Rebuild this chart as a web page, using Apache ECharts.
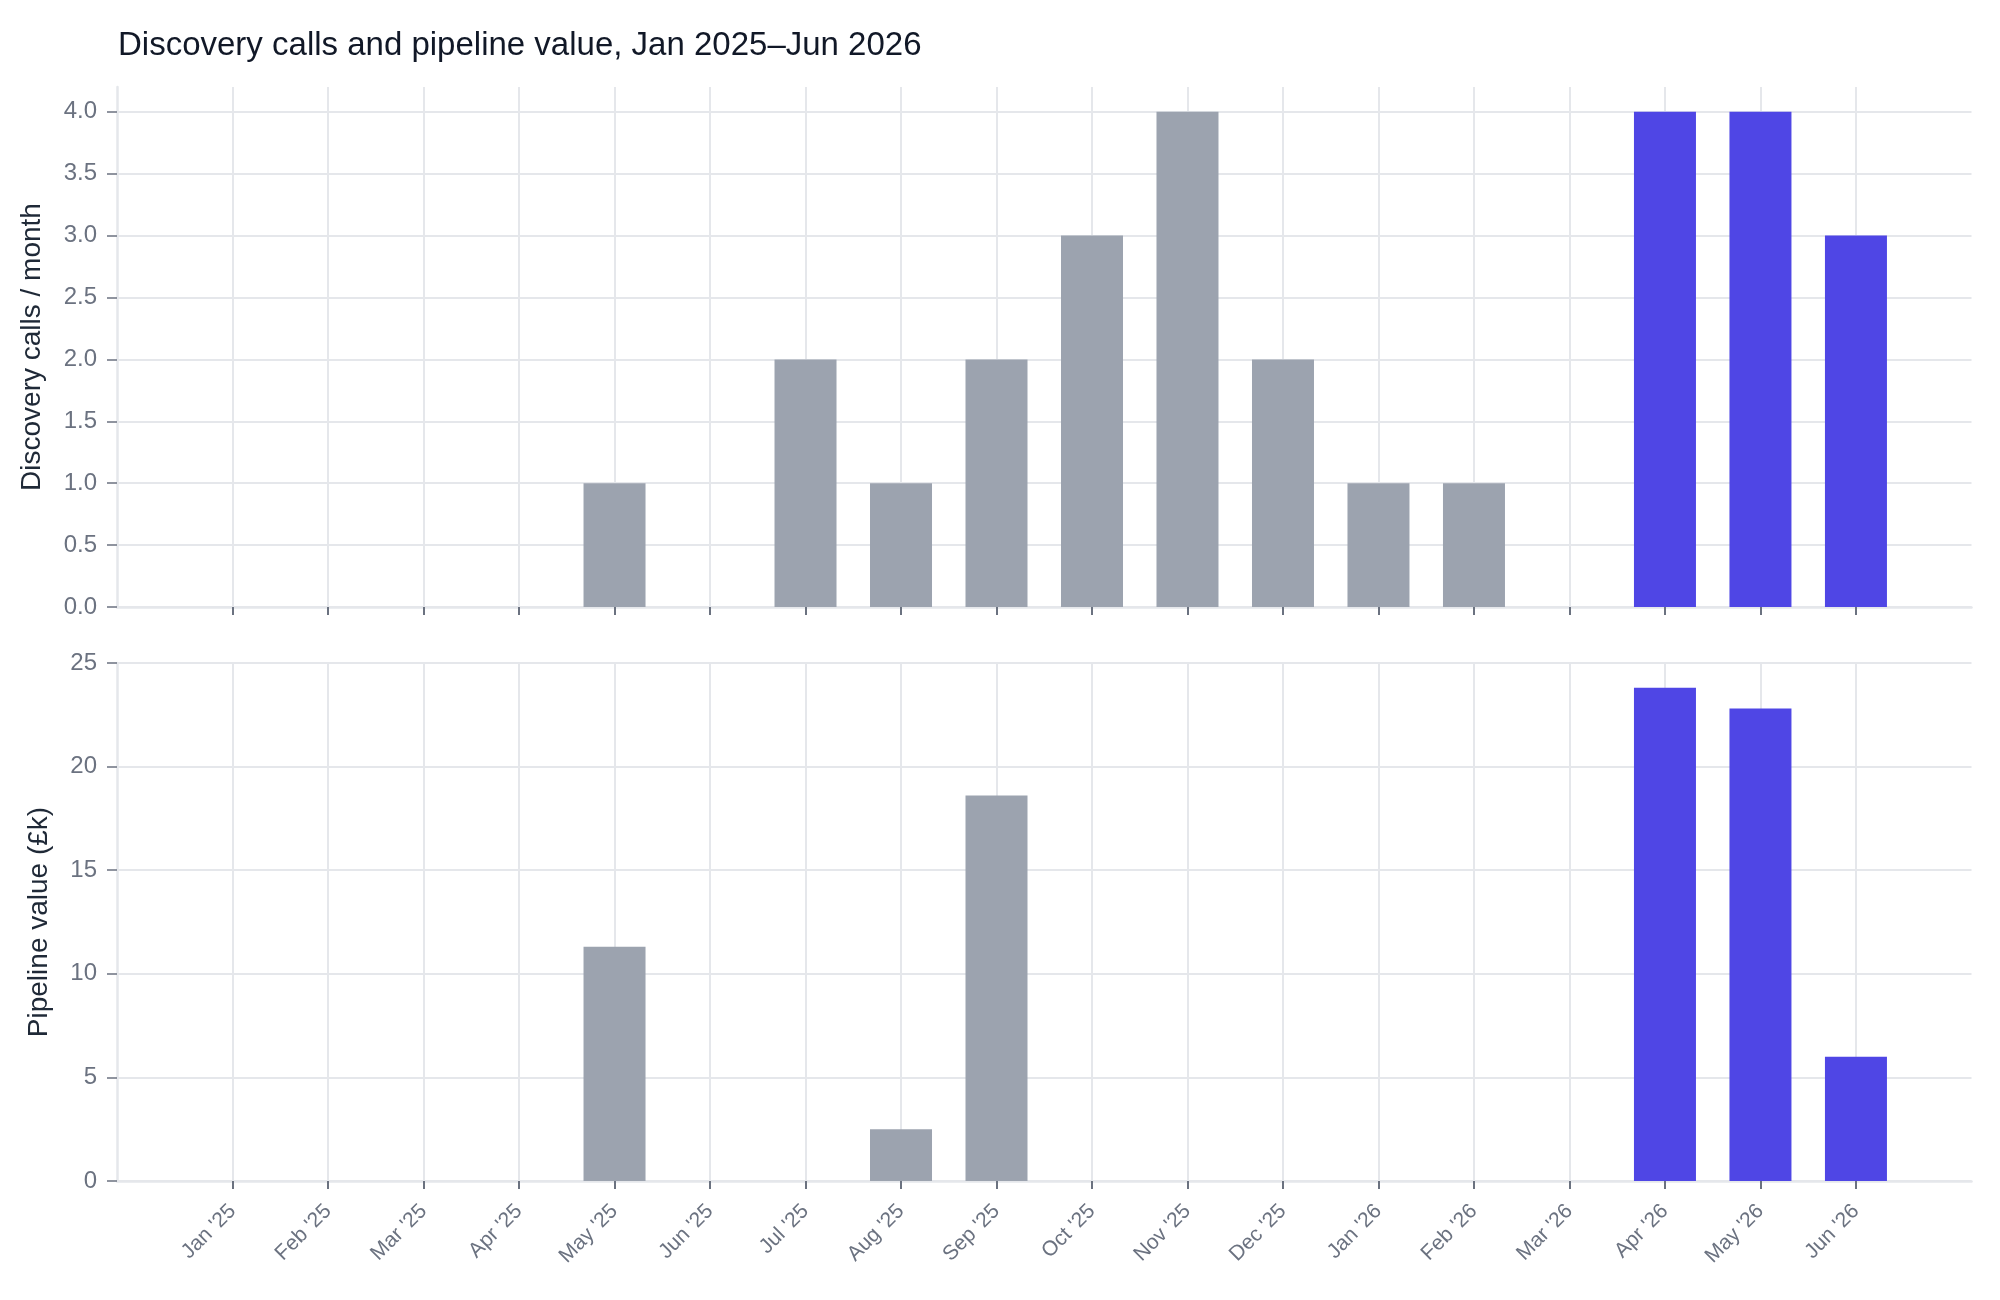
<!DOCTYPE html>
<html>
<head>
<meta charset="utf-8">
<script src="https://cdn.jsdelivr.net/npm/echarts@6/dist/echarts.min.js"></script>
<style>html,body{margin:0;padding:0;background:#fff}#c{width:2000px;height:1300px}</style>
</head>
<body>
<div id="c"></div>
<script>
const chartTitle = "Discovery calls and pipeline value, Jan 2025\u2013Jun 2026";
const months = ["Jan '25","Feb '25","Mar '25","Apr '25","May '25","Jun '25","Jul '25","Aug '25","Sep '25","Oct '25","Nov '25","Dec '25","Jan '26","Feb '26","Mar '26","Apr '26","May '26","Jun '26"];
const calls = [0,0,0,0,1,0,2,1,2,3,4,2,1,1,0,4,4,3];
const pipeline = [0,0,0,0,11.3,0,0,2.5,18.6,0,0,0,0,0,0,23.8,22.8,6.0];
const recentMonths = ["Apr '26","May '26","Jun '26"];
const callsTicks = [0,0.5,1,1.5,2,2.5,3,3.5,4];
const pipelineTicks = [0,5,10,15,20,25];
const callsAxisTitle = "Discovery calls / month";
const pipelineAxisTitle = "Pipeline value (\u00a3k)";

const FONT = "'Liberation Sans', Arial, Helvetica, sans-serif";
const GRID = '#e5e7eb', TICK = '#6b7280', GRAY = '#9ca3af', BLUE = '#4f46e5';
const monthIdx = months.map((m, i) => i);
const pad = 1.21;

function xAxis(gridIndex, showLabels) {
  return {
    type: 'value', gridIndex,
    min: -pad, max: months.length - 1 + pad,
    axisLine: { show: true, onZero: false, lineStyle: { color: GRID, width: 2.5 } },
    axisTick: { show: true, customValues: monthIdx, length: 8, lineStyle: { color: TICK, width: 2 } },
    axisLabel: {
      show: showLabels, customValues: monthIdx, rotate: 45, margin: 27,
      fontSize: 21, color: TICK, fontFamily: FONT,
      formatter: v => months[Math.round(v)]
    },
    splitLine: { show: true, lineStyle: { color: GRID, width: 2 } }
  };
}
function yAxis(gridIndex, name, max, ticks, fmt, gap) {
  return {
    type: 'value', gridIndex, min: 0, max,
    name, nameLocation: 'middle', nameGap: gap, nameRotate: 90,
    nameTextStyle: { fontSize: 28, color: '#1f2937', fontFamily: FONT },
    axisLine: { show: true, onZero: false, lineStyle: { color: GRID, width: 2.5 } },
    axisTick: { show: true, customValues: ticks, length: 10, lineStyle: { color: TICK, width: 1.5 } },
    axisLabel: { customValues: ticks, formatter: fmt, fontSize: 24, color: TICK, margin: 20, fontFamily: FONT },
    splitLine: { show: true, lineStyle: { color: GRID, width: 2 } }
  };
}
function barData(values) {
  return months.map((m, i) => ({
    value: [i, values[i]],
    itemStyle: { color: recentMonths.includes(m) ? BLUE : GRAY }
  }));
}

const chart = echarts.init(document.getElementById('c'), null, { renderer: 'canvas' });
chart.setOption({
  animation: false,
  backgroundColor: '#fff',
  title: {
    text: chartTitle, left: 113, top: 24,
    textStyle: { fontSize: 33, fontWeight: 'normal', color: '#111827', fontFamily: FONT }
  },
  grid: [
    { left: 117, right: 28.5, top: 87, height: 520 },
    { left: 117, right: 28.5, top: 663, height: 518 }
  ],
  xAxis: [xAxis(0, false), xAxis(1, true)],
  yAxis: [
    yAxis(0, callsAxisTitle, 4.2, callsTicks, v => v.toFixed(1), 71),
    yAxis(1, pipelineAxisTitle, 25, pipelineTicks, v => String(v), 64)
  ],
  series: [
    { type: 'bar', xAxisIndex: 0, yAxisIndex: 0, barWidth: 62, data: barData(calls) },
    { type: 'bar', xAxisIndex: 1, yAxisIndex: 1, barWidth: 62, data: barData(pipeline) }
  ]
});
</script>
</body>
</html>
